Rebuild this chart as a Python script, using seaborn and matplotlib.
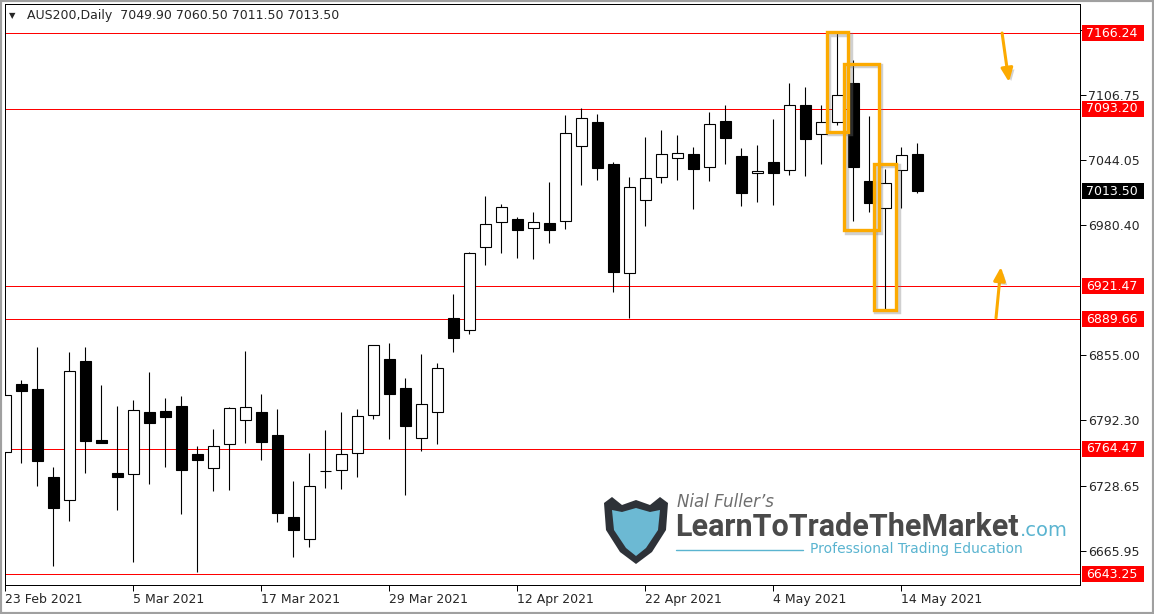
import matplotlib
matplotlib.use('Agg')
import matplotlib.pyplot as plt
import matplotlib.transforms as mtransforms
import matplotlib.patheffects as pe
from matplotlib.patches import Rectangle, Polygon
import seaborn as sns

# daily candles, 23 Feb 2021 .. 17 May 2021
opens = [6761.07, 6827.11, 6822.28, 6737.18, 6714.65, 6849.35, 6772.96, 6740.76, 6740.37, 6800.04,
         6801.00, 6805.84, 6759.42, 6745.59, 6768.80, 6792.01, 6800.04, 6777.79, 6698.50, 6676.94,
         6742.69, 6743.66, 6760.10, 6796.84, 6851.29, 6823.24, 6774.60, 6799.75, 6890.64, 6879.04,
         6959.30, 6983.48, 6986.38, 6977.67, 6982.51, 6984.44, 7057.55, 7080.18, 7039.85, 6934.16,
         7004.75, 7026.99, 7045.36, 7049.23, 7036.66, 7081.14, 7047.59, 7030.86, 7041.79, 7033.76,
         7096.61, 7068.57, 7080.18, 7118.18, 7023.41, 6997.01, 7033.76, 7049.90]
highs = [6840.65, 6830.98, 6863.18, 6747.14, 6858.06, 6863.18, 6826.14, 6805.84, 6811.64, 6838.72,
         6813.57, 6815.51, 6767.16, 6783.60, 6804.90, 6859.02, 6817.44, 6802.94, 6733.31, 6760.39,
         6782.92, 6800.04, 6802.94, 6865.00, 6866.47, 6832.91, 6856.12, 6847.13, 6914.14, 6954.47,
         7008.91, 7001.17, 6988.31, 6993.44, 7022.45, 7087.24, 7093.71, 7088.20, 7041.79, 7027.28,
         7065.96, 7072.73, 7067.89, 7056.29, 7090.14, 7096.90, 7055.32, 7058.22, 7083.37, 7118.18,
         7114.31, 7096.90, 7166.24, 7140.42, 7086.27, 7035.02, 7056.29, 7060.50]
lows = [6760.10, 6751.01, 6728.77, 6651.41, 6694.92, 6741.34, 6769.77, 6705.27, 6655.28, 6730.70,
        6747.14, 6701.69, 6645.61, 6723.93, 6724.90, 6770.35, 6753.91, 6693.96, 6660.11, 6669.78,
        6726.83, 6725.87, 6737.47, 6793.56, 6773.44, 6719.77, 6762.61, 6769.38, 6858.35, 6875.75,
        6942.48, 6954.08, 6949.24, 6948.28, 6963.75, 6977.29, 7019.84, 7024.09, 6916.37, 6891.22,
        6980.19, 7021.77, 7024.67, 6996.63, 7023.70, 7040.14, 6999.53, 7003.40, 7000.50, 7029.51,
        7028.54, 7040.14, 7077.56, 6985.02, 6993.73, 6899.93, 6997.59, 7011.50]
closes = [6816.47, 6820.63, 6752.94, 6707.49, 6839.68, 6772.28, 6770.35, 6737.47, 6801.97, 6789.69,
          6795.49, 6744.24, 6753.91, 6766.87, 6803.61, 6804.58, 6771.32, 6702.66, 6686.22, 6728.48,
          6742.98, 6759.13, 6795.88, 6864.54, 6817.73, 6786.79, 6807.77, 6842.58, 6871.88, 6953.50,
          6981.54, 6997.98, 6976.32, 6983.48, 6976.32, 7069.54, 7084.04, 7036.27, 6935.71, 7017.32,
          7026.02, 7049.23, 7050.20, 7035.31, 7078.24, 7065.28, 7012.10, 7032.79, 7031.44, 7096.61,
          7064.32, 7080.18, 7106.28, 7037.24, 7002.43, 7021.19, 7048.26, 7013.50]

date_labels = ['23 Feb 2021', '5 Mar 2021', '17 Mar 2021', '29 Mar 2021',
               '12 Apr 2021', '22 Apr 2021', '4 May 2021', '14 May 2021']
date_label_step = 8

price_ticks = [7169.15, 7106.75, 7044.05, 6980.40, 6855.00, 6792.30, 6728.65, 6665.95]
levels = [7166.24, 7093.20, 6921.47, 6889.66, 6764.47, 6643.25]
last_price = 7013.50
header = 'AUS200,Daily  7049.90 7060.50 7011.50 7013.50'

# highlight boxes: (x_left, x_right, price_low, price_high)
boxes = [(51.34, 52.67, 7071.1, 7167.2),
         (52.42, 54.59, 6976.0, 7136.6),
         (54.29, 55.67, 6898.7, 7039.9)]
# arrows: (x_from, price_from, x_to, price_to)
arrows = [(62.30, 7166.5, 62.73, 7119.1),
          (61.92, 6890.9, 62.23, 6940.3)]

sns.set_style('white')
plt.rcParams['font.family'] = ['DejaVu Sans']

W, H = 1154, 614
fig = plt.figure(figsize=(W / 100, H / 100), dpi=100)
ax = fig.add_axes([5 / W, 1 - 585 / H, 1075 / W, (585 - 4.3) / H])

idx = list(range(len(opens)))
px = 1 / 100 * 72  # one pixel in points

# wicks then bodies
ax.vlines(idx, lows, highs, color='black', lw=px * 1.1, zorder=2)
bottoms = [min(o, c) for o, c in zip(opens, closes)]
heights = [max(abs(c - o), 0.3) for o, c in zip(opens, closes)]
faces = ['white' if c >= o else 'black' for o, c in zip(opens, closes)]
ax.bar(idx, heights, bottom=bottoms, width=0.69, color=faces,
       edgecolor='black', linewidth=px * 1.1, zorder=3)

for lv in levels:
    ax.axhline(lv, color='#ff0000', lw=px, zorder=1)

ax.set_xlim(-0.019, 67.17)
ax.set_ylim(6632.74, 7194.28)

for s in ax.spines.values():
    s.set_color('black')
    s.set_linewidth(px)

ax.yaxis.tick_right()
ax.set_yticks(price_ticks)
ax.set_yticklabels([f'{v:.2f}' for v in price_ticks])
ax.set_xticks(idx[::date_label_step])
ax.set_xticklabels(date_labels, ha='left')
ax.tick_params(axis='both', length=4, width=px, color='black',
               labelsize=9, pad=2, direction='out', right=True, bottom=True)

# price labels on the right
blend = mtransforms.blended_transform_factory(ax.transAxes, ax.transData)
ppx = (7194.28 - 6632.74) / (585 - 4.3)
for lv, bg in [(v, '#ff0000') for v in levels] + [(last_price, 'black')]:
    ax.add_patch(Rectangle((1077 / 1075, lv - 8 * ppx), 62 / 1075, 16 * ppx,
                           transform=blend, facecolor=bg, edgecolor='none',
                           clip_on=False, zorder=10))
    ax.text(1081 / 1075, lv, f'{lv:.2f}', transform=blend, color='white',
            fontsize=9, va='center', ha='left', clip_on=False, zorder=11)

# orange highlight boxes and arrows, with a soft grey drop shadow
orange = '#fcaa00'
shade = mtransforms.offset_copy(ax.transData, fig=fig, x=2.5, y=-2.5, units='dots')
for x0, x1, p0, p1 in boxes:
    ax.add_patch(Rectangle((x0, p0), x1 - x0, p1 - p0, fill=False, edgecolor='#7a7a7a',
                           alpha=0.35, linewidth=3.2, zorder=5, transform=shade))
    ax.add_patch(Rectangle((x0, p0), x1 - x0, p1 - p0, fill=False, edgecolor=orange,
                           linewidth=2.4, zorder=6))
shadow = [pe.SimplePatchShadow(offset=(2, -2), shadow_rgbFace='#808080', alpha=0.35), pe.Normal()]
for x0, p0, x1, p1 in arrows:
    ax.annotate('', xy=(x1, p1), xytext=(x0, p0),
                arrowprops=dict(arrowstyle='-|>,head_length=0.8,head_width=0.35', color=orange,
                                lw=2.2, shrinkA=0, shrinkB=0, path_effects=shadow), zorder=6)

# header
fig.text(9 / W, 1 - 15.5 / H, '\u25bc', fontsize=6, va='center', ha='left')
fig.text(27 / W, 1 - 15.5 / H, header, fontsize=9, va='center', ha='left')


# logo
def fx(p):
    return p / W


def fy(p):
    return 1 - p / H


shield = [(604, 503), (612, 497), (622, 505), (636, 500), (650, 505), (660, 497), (668, 503),
          (666, 530), (652, 552), (636, 564), (620, 552), (606, 530)]
inner = [(612, 510), (622, 512), (636, 508), (650, 512), (660, 510),
         (658, 530), (646, 548), (636, 556), (626, 548), (614, 530)]
fig.add_artist(Polygon([(fx(a), fy(b)) for a, b in shield], closed=True,
                       facecolor='#2e3238', edgecolor='none', transform=fig.transFigure))
fig.add_artist(Polygon([(fx(a), fy(b)) for a, b in inner], closed=True,
                       facecolor='#6cb9d3', edgecolor='none', transform=fig.transFigure))
fig.text(fx(677), fy(502), "Nial Fuller\u2019s", fontsize=12, style='italic',
         color='#6e6e6e', va='center', ha='left')
fig.text(fx(675), fy(527), 'LearnToTradeTheMarket', fontsize=22, fontweight='bold',
         color='#4a4a4a', va='center', ha='left', family=['Roboto', 'DejaVu Sans'])
fig.text(fx(1020), fy(531), '.com', fontsize=14, color='#5ab4d0', va='center', ha='left')
fig.text(fx(810), fy(549), 'Professional Trading Education', fontsize=10,
         color='#5ab4d0', va='center', ha='left')
fig.add_artist(plt.Line2D([fx(676), fx(803)], [fy(550), fy(550)], color='#5ab4d0', lw=1))

# window border
fig.add_artist(Rectangle((0, 0), 1, 1, transform=fig.transFigure, fill=False,
                         edgecolor='#a0a0a0', linewidth=3))

fig.savefig('out.png', dpi=100, facecolor='white')
